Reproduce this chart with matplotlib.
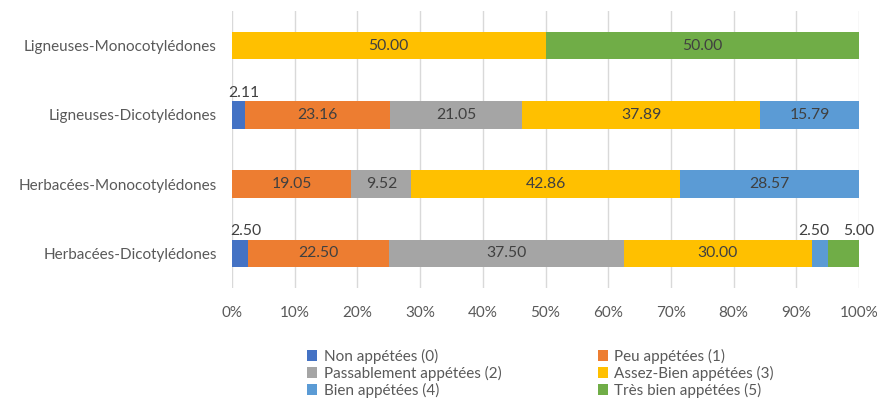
import matplotlib
matplotlib.use("Agg")
import matplotlib.pyplot as plt
import numpy as np

plt.rcParams['font.family'] = ['Lato', 'DejaVu Sans']

categories = ["Herbacées-Dicotylédones", "Herbacées-Monocotylédones",
              "Ligneuses-Dicotylédones", "Ligneuses-Monocotylédones"]
series_names = ["Non appétées (0)", "Peu appétées (1)", "Passablement appétées (2)",
                "Assez-Bien appétées (3)", "Bien appétées (4)", "Très bien appétées (5)"]
non_appetees = [2.50, 0.0, 2.11, 0.0]
peu_appetees = [22.50, 19.05, 23.16, 0.0]
passablement = [37.50, 9.52, 21.05, 0.0]
assez_bien = [30.00, 42.86, 37.89, 50.00]
bien = [2.50, 28.57, 15.79, 0.0]
tres_bien = [5.00, 0.0, 0.0, 50.00]
x_ticks = [0, 10, 20, 30, 40, 50, 60, 70, 80, 90, 100]

series = [non_appetees, peu_appetees, passablement, assez_bien, bien, tres_bien]
colors = ["#4472C4", "#ED7D31", "#A5A5A5", "#FFC000", "#5B9BD5", "#70AD47"]
text_color = "#595959"

fig = plt.figure(figsize=(8.77, 4.03), dpi=100)
ax = fig.add_axes([232 / 877, 1 - 288 / 403, 627 / 877, 277 / 403])

y = np.arange(len(categories))
left = np.zeros(len(categories))
handles = []
for name, vals, col in zip(series_names, series, colors):
    vals = np.array(vals)
    h = ax.barh(y, vals, left=left, height=0.4, color=col, label=name, zorder=2)
    handles.append(h)
    for i, v in enumerate(vals):
        if v <= 0:
            continue
        cx = left[i] + v / 2
        if v < 6:
            # narrow segments: label sits above the bar
            dx = 0
            if name.startswith("Bien"):
                dx = -4
            elif name.startswith("Très"):
                dx = 11
            elif name.startswith("Non"):
                dx = 4
            ax.annotate(f"{v:.2f}", (cx, y[i] + 0.2), xytext=(dx, 1),
                        textcoords="offset points", ha="center", va="bottom",
                        fontsize=11.3, color="#404040")
        else:
            ax.text(cx, y[i], f"{v:.2f}", ha="center", va="center",
                    fontsize=11.3, color="#404040", zorder=3)
    left = left + vals

ax.set_xlim(0, 100)
ax.set_ylim(-0.5, 3.5)
ax.set_xticks(x_ticks)
ax.set_xticklabels([f"{t}%" for t in x_ticks])
ax.set_yticks(y)
ax.set_yticklabels(categories, fontsize=11.5)
ax.tick_params(axis='both', length=0, labelsize=11, colors=text_color)
ax.tick_params(axis='x', pad=13)
ax.tick_params(axis='y', pad=11)
ax.grid(axis='x', color="#D9D9D9", linewidth=1, zorder=0)
for s in ax.spines.values():
    s.set_visible(False)

# legend entries fill row by row across two columns
order = [0, 2, 4, 1, 3, 5]
fig.legend(handles=[handles[k] for k in order],
           labels=[series_names[k] for k in order], loc="upper left",
           bbox_to_anchor=(293 / 877, 1 - 335 / 403), ncol=2, frameon=False,
           fontsize=11, handlelength=0.7, handleheight=0.7, handletextpad=0.4,
           columnspacing=6.3, labelspacing=0.12, labelcolor=text_color)

fig.savefig("out.png", dpi=100)
